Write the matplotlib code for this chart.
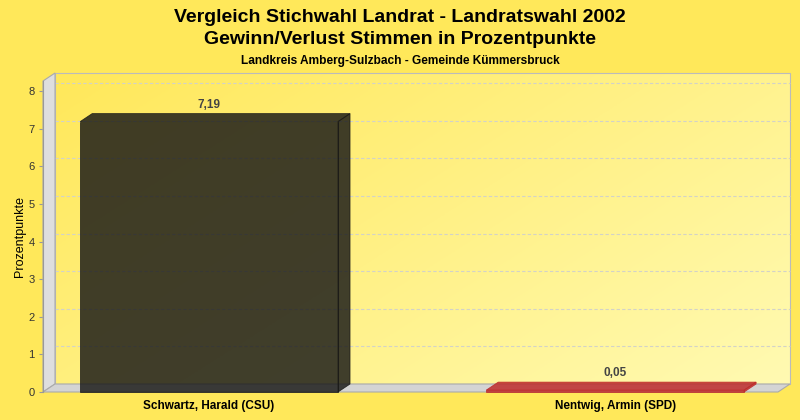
import numpy as np
import matplotlib.pyplot as plt
from matplotlib.patches import Polygon, Rectangle
from matplotlib import font_manager

# Daten
kandidaten = ['Schwartz, Harald (CSU)', 'Nentwig, Armin (SPD)']
werte = [7.19, 0.05]
werte_text = ['7,19', '0,05']
farben = ['#191917', '#BE2828']

titel1 = 'Vergleich Stichwahl Landrat - Landratswahl 2002'
titel2 = 'Gewinn/Verlust Stimmen in Prozentpunkte'
untertitel = 'Landkreis Amberg-Sulzbach - Gemeinde Kümmersbruck'

# Schrift
namen = {f.name for f in font_manager.fontManager.ttflist}
narrow = 'Liberation Sans Narrow' if 'Liberation Sans Narrow' in namen else 'Liberation Sans'
plt.rcParams['font.family'] = ['Liberation Sans', 'DejaVu Sans']

bg = '#FFE85A'
fig = plt.figure(figsize=(8, 4.2), dpi=100, facecolor=bg)
ax = fig.add_axes([43 / 800, 28 / 420, 735 / 800, 311 / 420])
ax.set_facecolor('none')

x0, x1 = -0.409, 1.401
ymax = 8.27
dx, dy = 12 / 406, 8 / 37.6
ax.set_xlim(x0, x1)
ax.set_ylim(0, ymax)

# Rückwand mit Farbverlauf
wand = Polygon([(x0 + dx, dy), (x1 + dx, dy), (x1 + dx, ymax + dy), (x0 + dx, ymax + dy)],
               closed=True, facecolor='none', edgecolor='#BBBBBB', lw=0.8, clip_on=False, zorder=1)
ax.add_patch(wand)
gx, gy = np.meshgrid(np.linspace(0, 1, 200), np.linspace(0, 1, 200))
t = np.clip((gx * 0.6 + (1 - gy) * 0.4), 0, 1)
c0 = np.array([255, 232, 90]) / 255
c1 = np.array([255, 250, 178]) / 255
img = c0[None, None, :] * (1 - t[..., None]) + c1[None, None, :] * t[..., None]
im = ax.imshow(img, extent=(x0 + dx, x1 + dx, ymax + dy, dy), aspect='auto', zorder=0.5,
               clip_on=False)
im.set_clip_path(wand)

# Gitterlinien
for y in range(1, 9):
    ax.plot([x0 + dx, x1 + dx], [y + dy, y + dy], color='#D2D2C8', lw=0.8,
            ls=(0, (3, 2)), zorder=1.2, clip_on=False)

# linke Wand
ax.add_patch(Polygon([(x0, 0), (x0 + dx, dy), (x0 + dx, ymax + dy), (x0, ymax)],
                     closed=True, facecolor='#DEDEDE', edgecolor='#AAAAAA', lw=0.8,
                     clip_on=False, zorder=2))
# Boden
ax.add_patch(Polygon([(x0, 0), (x1, 0), (x1 + dx, dy), (x0 + dx, dy)],
                     closed=True, facecolor='#D4D4D4', edgecolor='#AAAAAA', lw=0.8,
                     clip_on=False, zorder=2))

# Balken (3D)
breite = 0.635
for i, (v, c) in enumerate(zip(werte, farben)):
    l = i - breite / 2
    r = i + breite / 2
    kw = dict(facecolor=c, alpha=0.83, clip_on=False, zorder=3, lw=0.6, edgecolor=c)
    ax.add_patch(Rectangle((l, 0), breite, v, **kw))
    ax.add_patch(Polygon([(l, v), (r, v), (r + dx, v + dy), (l + dx, v + dy)], closed=True, **kw))
    ax.add_patch(Polygon([(r, 0), (r + dx, dy), (r + dx, v + dy), (r, v)], closed=True, **kw))
    ax.text(i, v + dy + 0.23, werte_text[i], ha='center', va='center', fontsize=8.5,
            fontweight='bold', color='#444444', zorder=4)

# Achsen
for s in ['top', 'right', 'bottom']:
    ax.spines[s].set_visible(False)
ax.spines['left'].set_color('#999999')
ax.set_yticks(range(0, 9))
ax.tick_params(axis='y', length=3, color='#999999', labelsize=8, labelcolor='#333333', pad=3)
ax.set_xticks(range(len(kandidaten)))
ax.set_xticklabels(kandidaten, fontsize=8.5, fontweight='bold')
ax.tick_params(axis='x', length=0, pad=6)
ax.set_ylabel('Prozentpunkte', fontsize=9, labelpad=2)

# Titel
fig.text(0.5, 1 - 17 / 420, titel1, ha='center', va='center', fontsize=14, fontweight='bold',
         family=narrow)
fig.text(0.5, 1 - 40 / 420, titel2, ha='center', va='center', fontsize=14, fontweight='bold',
         family=narrow)
fig.text(0.5, 1 - 61 / 420, untertitel, ha='center', va='center', fontsize=8.6, fontweight='bold',
         family=narrow)

fig.savefig('out.png', dpi=100, facecolor=bg)
